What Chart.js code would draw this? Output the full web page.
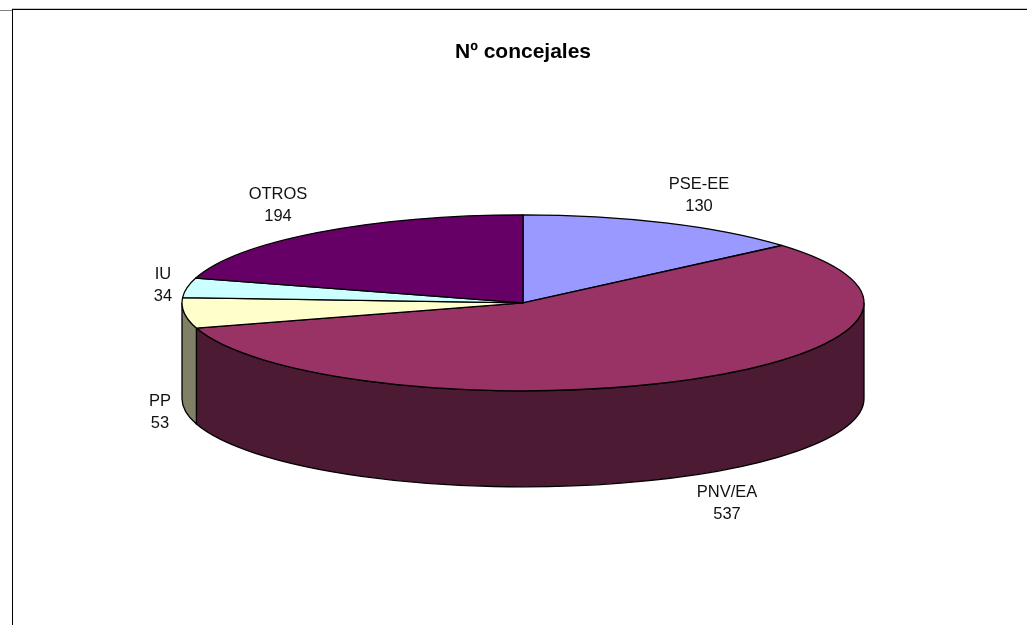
<!DOCTYPE html>
<html>
<head>
<meta charset="utf-8">
<script src="https://cdn.jsdelivr.net/npm/chart.js@4"></script>
<style>
html,body{margin:0;padding:0;background:#fff;overflow:hidden}
#wrap{position:relative;width:1027px;height:625px}
canvas{position:absolute;left:0;top:0}
.l{position:absolute}
</style>
</head>
<body>
<div id="wrap">
<canvas id="c" width="1027" height="625"></canvas>
<div class="l" style="left:12px;top:8px;width:1015px;height:1px;background:#c8c8c8"></div>
<div class="l" style="left:12px;top:9px;width:1015px;height:1px;background:#000"></div>
<div class="l" style="left:0;top:10px;width:12px;height:1px;background:#808080"></div>
<div class="l" style="left:12px;top:9px;width:1px;height:616px;background:#000"></div>
</div>
<script>
const categories = ['PSE-EE', 'PNV/EA', 'PP', 'IU', 'OTROS'];
const concejales = [130, 537, 53, 34, 194];
const topColors = ['#9999FF', '#993366', '#FFFFCC', '#CCFFFF', '#660066'];
const sideColors = ['#4D4D80', '#4D1A33', '#808066', '#668080', '#330033'];
const labelAnchors = [[699, 184], [727, 492], [160, 401], [163, 274], [278, 194]];

const RX = 341, RY = 88, DEPTH = 96, LINE_GAP = 22;

const pie3d = {
  id: 'pie3d',
  beforeDatasetsDraw(chart) {
    const ctx = chart.ctx;
    const arcs = chart.getDatasetMeta(0).data;
    const cx = arcs[0].x, cy = arcs[0].y;
    const sx = RX / arcs[0].outerRadius, sy = RY / arcs[0].outerRadius;
    const rx = arcs[0].outerRadius * sx, ry = arcs[0].outerRadius * sy;
    ctx.save();
    ctx.lineWidth = 1.3;
    ctx.strokeStyle = '#000';
    ctx.lineJoin = 'round';
    // side wall: only the front half of the ellipse is visible
    arcs.forEach((a, i) => {
      const s = Math.max(a.startAngle, 0), e = Math.min(a.endAngle, Math.PI);
      if (e <= s) return;
      ctx.beginPath();
      ctx.ellipse(cx, cy, rx, ry, 0, s, e);
      ctx.ellipse(cx, cy + DEPTH, rx, ry, 0, e, s, true);
      ctx.closePath();
      ctx.fillStyle = sideColors[i];
      ctx.fill();
      ctx.stroke();
    });
    // top face
    arcs.forEach((a) => {
      ctx.beginPath();
      ctx.moveTo(cx, cy);
      ctx.ellipse(cx, cy, rx, ry, 0, a.startAngle, a.endAngle);
      ctx.closePath();
      ctx.fillStyle = a.options.backgroundColor;
      ctx.fill();
      ctx.stroke();
    });
    // labels
    ctx.fillStyle = '#111';
    ctx.font = '16.5px "Liberation Sans", Arial, sans-serif';
    ctx.textAlign = 'center';
    ctx.textBaseline = 'middle';
    categories.forEach((name, i) => {
      const [x, y] = labelAnchors[i];
      ctx.fillText(name, x, y);
      ctx.fillText(String(concejales[i]), x, y + LINE_GAP);
    });
    ctx.restore();
    return false;
  }
};

new Chart(document.getElementById('c'), {
  type: 'pie',
  data: {
    labels: categories,
    datasets: [{ data: concejales, backgroundColor: topColors, borderColor: '#000', borderWidth: 1 }]
  },
  plugins: [pie3d],
  options: {
    responsive: false,
    animation: false,
    events: [],
    layout: { padding: { left: 19, bottom: 90 } },
    plugins: {
      legend: { display: false },
      tooltip: { enabled: false },
      title: {
        display: true,
        text: 'Nº concejales',
        color: '#000',
        font: { family: '"Liberation Sans", Arial, sans-serif', size: 21, weight: 'bold', lineHeight: 1.2 },
        padding: { top: 40, bottom: 5.4 }
      }
    }
  }
});
</script>
</body>
</html>
